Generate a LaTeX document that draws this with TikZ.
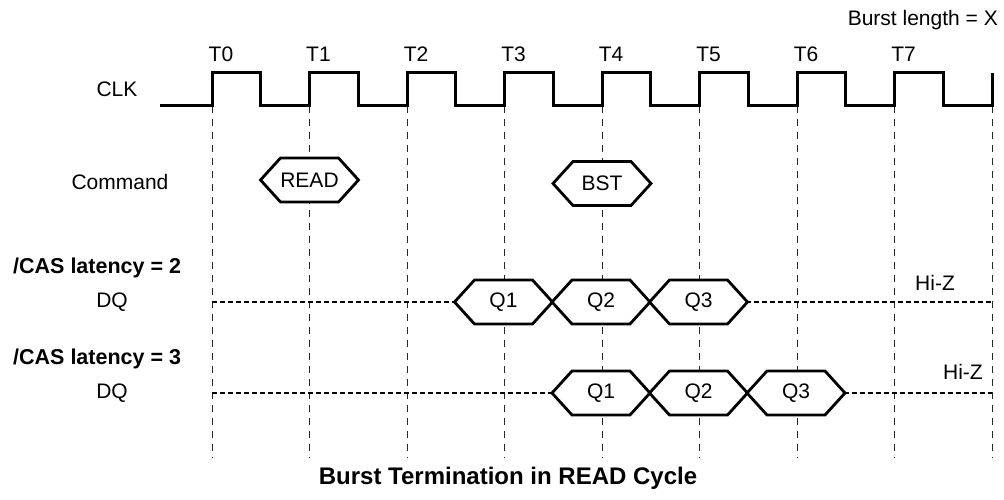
\documentclass[tikz,border=0pt]{standalone}
\usepackage{fontspec}
\setmainfont{Liberation Sans}
\usetikzlibrary{positioning}
\newcommand{\hexbox}[4]{%
  \draw[sig] ({#2-49},#3) -- ({#2-29},{#3-22}) -- ({#2+29},{#3-22}) -- ({#2+49},#3)
    -- ({#2+29},{#3+22}) -- ({#2-29},{#3+22}) -- cycle;
  \node (#1) at (#2,#3) {#4};
  \coordinate (#1-l) at ({#2-49},#3);
  \coordinate (#1-r) at ({#2+49},#3);}

\begin{document}
\begin{tikzpicture}[x=1pt,y=-1pt,font=\fontsize{21}{25}\selectfont,
  every node/.style={inner sep=2pt},
  bold/.style={font=\fontsize{21.5}{25}\selectfont\bfseries},
  grid/.style={draw=black!85,line width=1pt,dash pattern=on 7pt off 6pt},
  hiz/.style={line width=2.8pt,dash pattern=on 5pt off 3pt},
  sig/.style={line width=2.8pt,fill=white,line join=miter},
  clk/.style={line width=3pt}]
  \useasboundingbox (0,0) rectangle (1004,500);
  % edges
  \foreach \k in {0,...,8} \draw[grid] ({212+97.5*\k},106) -- ({212+97.5*\k},458);
  \foreach \k in {0,...,7} \node[anchor=base] (t\k) at ({221+97.5*\k},62) {T\k};
  \node[anchor=east] (blen) at (1000,20) {Burst length = X};
  % row labels
  \node (clk) at (117,89) {CLK};
  \node (cmd) at (120,182) {Command};
  \node[bold,anchor=west] (cl2) at (11,268) {/CAS latency = 2};
  \node (dq2) at (112,302) {DQ};
  \node[bold,anchor=west] (cl3) at (11,359) {/CAS latency = 3};
  \node (dq3) at (112,393) {DQ};
  % clock
  \draw[clk] (160,106) \foreach \k in {0,...,7} { -- ({212+97.5*\k},106) -- ({212+97.5*\k},73)
    -- ({260.75+97.5*\k},73) -- ({260.75+97.5*\k},106) } -- (992,106) -- (992,73);
  % command
  \hexbox{rd}{309.5}{180}{READ}
  \hexbox{bst}{602}{183.5}{BST}
  % data, latency 2
  \coordinate (dq2s) at (212,302);
  \coordinate (dq2e) at (992,302);
  \draw[hiz] (dq2s) -- (503.5,302);
  \draw[hiz] (650,302) -- (dq2e);
  \hexbox{qa1}{503.5}{302}{Q1}
  \hexbox{qa2}{601}{302}{Q2}
  \hexbox{qa3}{698.5}{302}{Q3}
  \node (hz2) at (935,283) {Hi-Z};
  % data, latency 3
  \coordinate (dq3s) at (212,393);
  \coordinate (dq3e) at (992,393);
  \draw[hiz] (dq3s) -- (601,393);
  \draw[hiz] (747.5,393) -- (dq3e);
  \hexbox{qb1}{601}{393}{Q1}
  \hexbox{qb2}{698.5}{393}{Q2}
  \hexbox{qb3}{796}{393}{Q3}
  \node[anchor=east] (hz3) at (985,372) {Hi-Z};
  \node[font=\fontsize{24}{28}\selectfont\bfseries] (title) at (508,478) {Burst Termination in READ Cycle};
\end{tikzpicture}
\end{document}
